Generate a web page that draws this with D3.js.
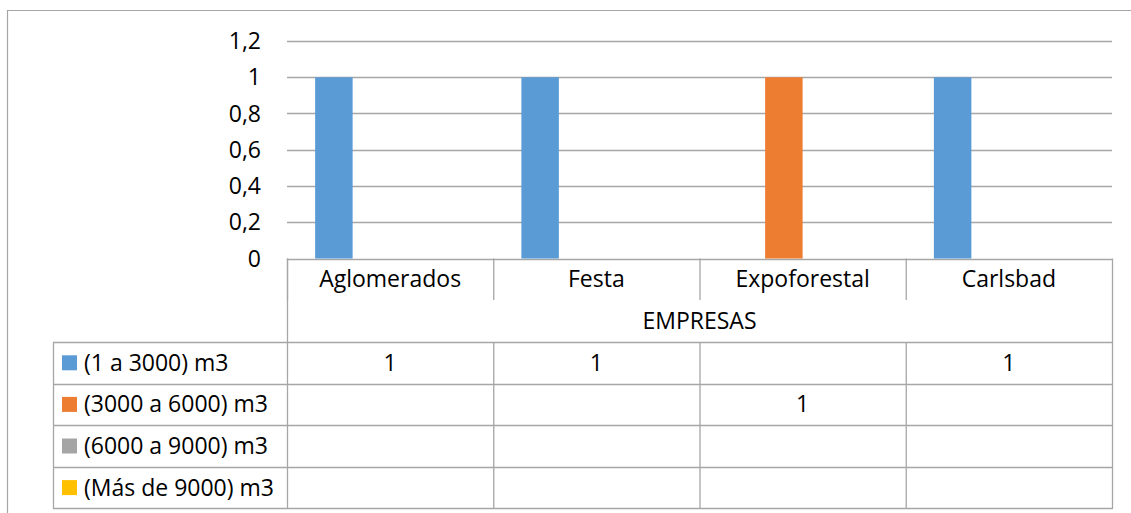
<!DOCTYPE html>
<html><head><meta charset="utf-8">
<script src="https://cdn.jsdelivr.net/npm/d3@7"></script>
<style>
html,body{margin:0;padding:0;background:#fff;}
svg text{font-family:"Open Sans","Noto Sans",sans-serif;fill:#000;}
</style></head>
<body><svg id="c" width="1131" height="513"></svg>
<script>
const categories = ["Aglomerados","Festa","Expoforestal","Carlsbad"];
const seriesNames = ["(1 a 3000) m3","(3000 a 6000) m3","(6000 a 9000) m3","(Más de 9000) m3"];
const seriesColors = ["#5B9BD5","#ED7D31","#A5A5A5","#FFC000"];
const s1 = [1,1,null,1];
const s2 = [null,null,1,null];
const s3 = [null,null,null,null];
const s4 = [null,null,null,null];
const seriesValues = [s1,s2,s3,s4];
const yTicks = [0,0.2,0.4,0.6,0.8,1,1.2];
const axisTitle = "EMPRESAS";

const svg = d3.select("#c");
const FS = 23;
const plotL = 287, plotR = 1112, plotT = 41, plotB = 258.5;
const tableL = 53;
const rowH = 41.6;
const catRowB = 300, titleRowB = 342;
const gridCol = "#a6a6a6";

// outer chart border
svg.append("path").attr("d","M7.5,513 V10.5 H1131").attr("fill","none").attr("stroke","#a6a6a6").attr("stroke-width",1.2);

const x0 = d3.scaleBand().domain(categories).range([plotL, plotR]).paddingInner(0).paddingOuter(0);
const x1 = d3.scaleBand().domain(d3.range(seriesNames.length)).range([0, x0.bandwidth()]).paddingInner(0).paddingOuter(0.75);
const y = d3.scaleLinear().domain([0,1.2]).range([plotB, plotT]);

// gridlines
svg.append("g").selectAll("line").data(yTicks).join("line")
  .attr("x1",plotL).attr("x2",plotR)
  .attr("y1",d=>Math.round(y(d))+0.5).attr("y2",d=>Math.round(y(d))+0.5)
  .attr("stroke",gridCol).attr("stroke-width",1.3);

// y tick labels
const fmt = d => String(+d.toFixed(1)).replace(".",",");
svg.append("g").selectAll("text").data(yTicks).join("text")
  .attr("x",261).attr("y",d=>y(d)).attr("dy","0.35em")
  .attr("text-anchor","end").attr("font-size",FS).text(fmt);

// bars
const bars = [];
seriesValues.forEach((vals,si)=>vals.forEach((v,ci)=>{ if(v!=null) bars.push({si,ci,v}); }));
svg.append("g").selectAll("rect").data(bars).join("rect")
  .attr("x",d=>x0(categories[d.ci])+x1(d.si))
  .attr("width",x1.bandwidth())
  .attr("y",d=>y(d.v)).attr("height",d=>y(0)-y(d.v))
  .attr("fill",d=>seriesColors[d.si]);

// data table
const tg = svg.append("g");
const line = (x1_,y1_,x2_,y2_) => tg.append("line").attr("x1",x1_).attr("y1",y1_).attr("x2",x2_).attr("y2",y2_).attr("stroke",gridCol).attr("stroke-width",1.3);
categories.forEach(c=>line(x0(c)+0.5, plotB, x0(c)+0.5, catRowB));
line(plotR+0.5, plotB, plotR+0.5, titleRowB);
line(plotL+0.5, plotB, plotL+0.5, titleRowB);
const rowTops = seriesNames.map((_,i)=>titleRowB + i*rowH);
const tableB = titleRowB + seriesNames.length*rowH;
[titleRowB, ...rowTops.slice(1), tableB].forEach(yy=>line(tableL, Math.round(yy)+0.5, plotR+1, Math.round(yy)+0.5));
line(tableL+0.5, titleRowB, tableL+0.5, tableB);
categories.forEach(c=>line(x0(c)+0.5, titleRowB, x0(c)+0.5, tableB));
line(plotR+0.5, titleRowB, plotR+0.5, tableB);

// category labels
svg.append("g").selectAll("text").data(categories).join("text")
  .attr("x",d=>x0(d)+x0.bandwidth()/2).attr("y",(plotB+catRowB)/2).attr("dy","0.35em")
  .attr("text-anchor","middle").attr("font-size",FS).text(d=>d);
svg.append("text").attr("x",(plotL+plotR)/2).attr("y",(catRowB+titleRowB)/2).attr("dy","0.35em")
  .attr("text-anchor","middle").attr("font-size",FS).text(axisTitle);

seriesNames.forEach((name,si)=>{
  const cy = rowTops[si] + rowH/2;
  svg.append("rect").attr("x",62).attr("y",cy-7.5).attr("width",15).attr("height",15).attr("fill",seriesColors[si]);
  svg.append("text").attr("x",84).attr("y",cy).attr("dy","0.35em").attr("font-size",FS).text(name);
  svg.append("g").selectAll("text").data(seriesValues[si].map((v,ci)=>({v,ci})).filter(d=>d.v!=null)).join("text")
    .attr("x",d=>x0(categories[d.ci])+x0.bandwidth()/2).attr("y",cy).attr("dy","0.35em")
    .attr("text-anchor","middle").attr("font-size",FS).text(d=>d.v);
});
</script></body></html>
